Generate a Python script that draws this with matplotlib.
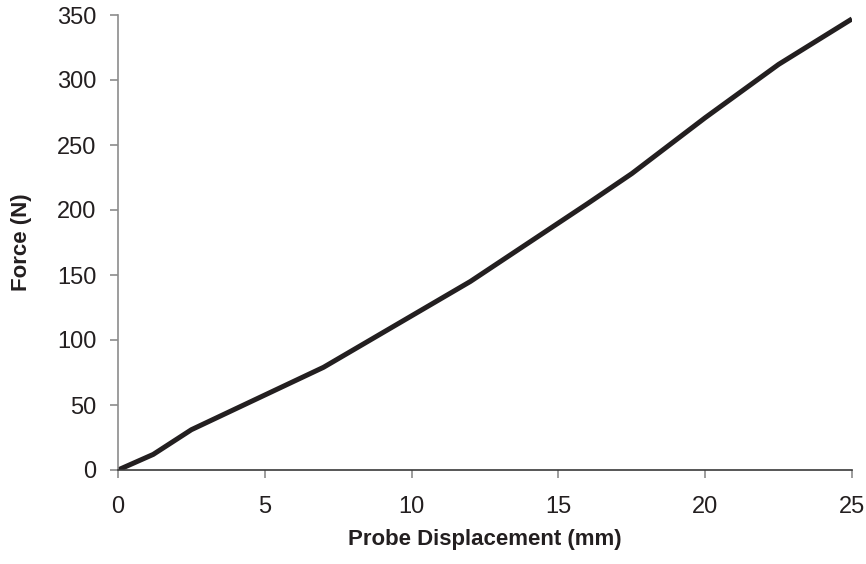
import matplotlib
matplotlib.use('Agg')
from matplotlib import pyplot as plt

plt.rcParams['font.family'] = ['Liberation Sans', 'DejaVu Sans']

# readings
displacement = [0, 1.2, 2.5, 7, 12, 16, 17.5, 20, 22.5, 25]
force = [0, 12, 31, 79, 145, 205, 228, 271, 312, 347]

x_ticks = [0, 5, 10, 15, 20, 25]
y_ticks = [0, 50, 100, 150, 200, 250, 300, 350]

fig = plt.figure(figsize=(8.66, 5.64), dpi=100)
ax = fig.add_axes([118/866, 94/564, 734/866, 455/564])

ax.plot(displacement, force, color='#231f20', linewidth=3.6, solid_capstyle='butt')

ax.set_xlim(0, 25)
ax.set_ylim(0, 350)
ax.set_xticks(x_ticks)
ax.set_yticks(y_ticks)

for s in ['top', 'right']:
    ax.spines[s].set_visible(False)
ax.spines['bottom'].set_color('#3a3a3a')
ax.spines['left'].set_color('#8c8c8c')
ax.spines['bottom'].set_linewidth(1.2)
ax.spines['left'].set_linewidth(1.2)

ax.tick_params(axis='x', direction='out', length=5.5, width=1.2, color='#8c8c8c',
               pad=13.5, labelsize=17, labelcolor='#231f20')
ax.tick_params(axis='y', direction='out', length=5.5, width=1.2, color='#8c8c8c',
               pad=10, labelsize=17, labelcolor='#231f20')

ax.set_xlabel('Probe Displacement (mm)', fontsize=16, fontweight='bold', color='#231f20')
ax.set_ylabel('Force (N)', fontsize=16, fontweight='bold', color='#231f20')
ax.xaxis.set_label_coords(367/734, -0.13)
ax.yaxis.set_label_coords(-0.117, 0.5)

fig.savefig('out.png', dpi=100)
